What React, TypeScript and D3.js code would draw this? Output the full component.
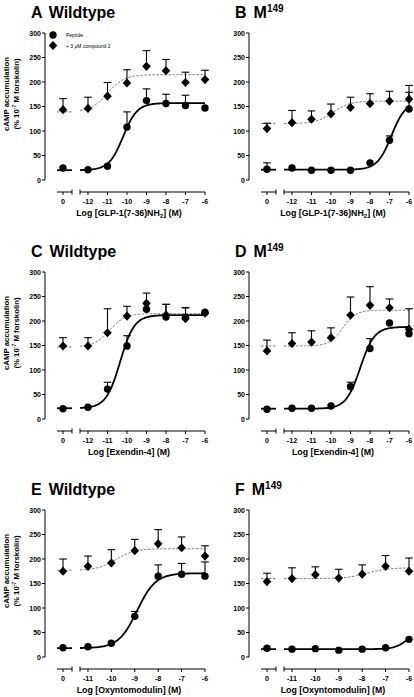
import React from 'react';
import * as d3 from 'd3';

// log concentrations (basal "0" handled separately)
const concGLP = [-12, -11, -10, -9, -8, -7, -6];
const concExe = [-12, -11, -10, -9, -8, -7, -6];
const concOxm = [-11, -10, -9, -8, -7, -6];
const yTicks = [0, 50, 100, 150, 200, 250, 300];

// values: index 0 = basal (0), then one per concentration
const pepA = [24.5, 21, 28, 108, 162, 156, 152, 147];
const pepErrA = [null, null, null, 139, 186, 175, 173, null];
const cmpA = [143.5, 146, 171, 198, 232, 223, 199, 205];
const cmpErrA = [166, 169, 199, 225, 264, 246, 220, 224];

const pepB = [22, 24.5, 20, 20, 20, 35, 81, 145];
const pepErrB = [35, null, null, null, null, null, 90, 179];
const cmpB = [105, 117, 124, 135, 148, 156, 161, 165];
const cmpErrB = [116, 142, 141, 155, 169, 176, 181, 193];

const pepC = [21, 24, 61, 149, 224, 208, 207, 218];
const pepErrC = [null, null, 75, 170, null, 234, 227, null];
const cmpC = [149, 149, 176, 210, 236, 212, 205, 216];
const cmpErrC = [166, 166, 225, 230, 257, 234, 227, null];

const pepD = [20, 22, 22, 26.5, 66, 144, 196, 174];
const pepErrD = [null, null, null, null, 75, 164, null, null];
const cmpD = [139, 154, 157, 166, 212, 232, 227, 183];
const cmpErrD = [161, 176, 180, 186, 249, 270, 245, 225];

const pepE = [19, 21, 28, 83, 165, 169, 165];
const pepErrE = [null, null, null, 93, 188, 191, 194];
const cmpE = [175, 185, 192, 217, 231, 223, 206];
const cmpErrE = [200, 206, 219, 240, 260, 245, 227];

const pepF = [18, 16, 17, 14, 16, 19, 36];
const pepErrF = [null, null, null, null, null, null, null];
const cmpF = [154, 160, 168, 161, 169, 185, 175];
const cmpErrF = [171, 182, 184, 179, 188, 207, 202];

// fitted curve parameters: [bottom, top, logEC50, hill]
const fitPepA = [20, 157, -10.2, 1.2];
const fitCmpA = [139, 215, -11.0, 1.0];
const fitPepB = [21, 160, -6.9, 1.2];
const fitCmpB = [115, 161, -9.9, 1.0];
const fitPepC = [22, 212, -10.35, 1.2];
const fitCmpC = [147, 215, -10.9, 1.1];
const fitPepD = [21, 188, -8.5, 1.2];
const fitCmpD = [149, 222, -9.4, 1.3];
const fitPepE = [18, 171, -8.9, 1.1];
const fitCmpE = [177, 221, -9.8, 1.1];
const fitPepF = [16, 60, -6.0, 1.5];
const fitCmpF = [160, 182, -7.8, 1.0];

const FONT = 'Liberation Sans, Arial, sans-serif';

type Panel = {
  letter: string; title: string; sup?: string; xTitle: string; xSub?: string; xTail?: string;
  conc: number[]; start: number; ox: number; oy: number;
  pep: number[]; pepErr: (number | null)[]; cmp: number[]; cmpErr: (number | null)[];
  fitPep: number[]; fitCmp: number[]; legend?: boolean;
};

const panels: Panel[] = [
  { letter: 'A', title: 'Wildtype', xTitle: 'Log [GLP-1(7-36)NH', xSub: '2', xTail: '] (M)', conc: concGLP, start: -12.41, ox: 0, oy: 0, pep: pepA, pepErr: pepErrA, cmp: cmpA, cmpErr: cmpErrA, fitPep: fitPepA, fitCmp: fitCmpA, legend: true },
  { letter: 'B', title: 'M', sup: '149', xTitle: 'Log [GLP-1(7-36)NH', xSub: '2', xTail: '] (M)', conc: concGLP, start: -12.41, ox: 204, oy: 0, pep: pepB, pepErr: pepErrB, cmp: cmpB, cmpErr: cmpErrB, fitPep: fitPepB, fitCmp: fitCmpB },
  { letter: 'C', title: 'Wildtype', xTitle: 'Log [Exendin-4] (M)', conc: concExe, start: -12.41, ox: 0, oy: 239, pep: pepC, pepErr: pepErrC, cmp: cmpC, cmpErr: cmpErrC, fitPep: fitPepC, fitCmp: fitCmpC },
  { letter: 'D', title: 'M', sup: '149', xTitle: 'Log [Exendin-4] (M)', conc: concExe, start: -12.41, ox: 204, oy: 239, pep: pepD, pepErr: pepErrD, cmp: cmpD, cmpErr: cmpErrD, fitPep: fitPepD, fitCmp: fitCmpD },
  { letter: 'E', title: 'Wildtype', xTitle: 'Log [Oxyntomodulin] (M)', conc: concOxm, start: -11.34, ox: 0, oy: 477, pep: pepE, pepErr: pepErrE, cmp: cmpE, cmpErr: cmpErrE, fitPep: fitPepE, fitCmp: fitCmpE },
  { letter: 'F', title: 'M', sup: '149', xTitle: 'Log [Oxyntomodulin] (M)', conc: concOxm, start: -11.34, ox: 204, oy: 477, pep: pepF, pepErr: pepErrF, cmp: cmpF, cmpErr: cmpErrF, fitPep: fitPepF, fitCmp: fitCmpF },
];

const logistic = (p: number[], x: number) => p[0] + (p[1] - p[0]) / (1 + Math.pow(10, p[3] * (p[2] - x)));

const diamond = 'M0,-4.6L4.3,0L0,4.6L-4.3,0Z';

function Markers({ xs, ys, kind }: { xs: number[]; ys: number[]; kind: 'c' | 'd' }) {
  return (
    <g>
      {xs.map((x, i) =>
        kind === 'c' ? (
          <circle key={i} cx={x} cy={ys[i]} r={3.7} fill="#000" />
        ) : (
          <path key={i} d={diamond} transform={`translate(${x},${ys[i]})`} fill="#000" />
        )
      )}
    </g>
  );
}

function PanelView({ p }: { p: Panel }) {
  const y = d3.scaleLinear().domain([0, 300]).range([180 + p.oy, 33 + p.oy]);
  const x = d3.scaleLinear().domain([p.start, -6]).range([80 + p.ox, 205 + p.ox]);
  const zeroX = 63 + p.ox;
  const zl = 57 + p.ox, zr = 72 + p.ox;
  const axY = 192 + p.oy;
  const axX = 45 + p.ox;
  const xsAll = [zeroX, ...p.conc.map((c) => x(c))];

  const curveXs = d3.range(p.start, -6.0001, 0.05).concat([-6]);
  const line = d3.line<number>().x((c) => x(c)).y((c) => y(logistic(p.fitPep, c)));
  const lineC = d3.line<number>().x((c) => x(c)).y((c) => y(logistic(p.fitCmp, c)));

  const errBars = (vals: number[], errs: (number | null)[]) =>
    errs.map((e, i) =>
      e == null ? null : (
        <g key={i} stroke="#000" strokeWidth={1.1}>
          <line x1={xsAll[i]} x2={xsAll[i]} y1={y(vals[i])} y2={y(e)} />
          <line x1={xsAll[i] - 3.8} x2={xsAll[i] + 3.8} y1={y(e)} y2={y(e)} />
        </g>
      )
    );

  return (
    <g fontFamily={FONT}>
      {/* title */}
      <text x={31 + p.ox} y={18 + p.oy} fontSize={16} fontWeight="bold">
        {p.letter}
        <tspan dx={7}>{p.title}</tspan>
        {p.sup && <tspan fontSize={10} dy={-6}>{p.sup}</tspan>}
      </text>

      {/* y axis */}
      <line x1={axX} x2={axX} y1={y(0)} y2={y(300)} stroke="#000" strokeWidth={1} />
      {yTicks.map((t) => (
        <g key={t}>
          <line x1={axX - 3} x2={axX} y1={y(t)} y2={y(t)} stroke="#000" />
          <text x={axX - 4} y={y(t) + 2.5} fontSize={7} fontWeight="bold" textAnchor="end">{t}</text>
        </g>
      ))}
      {p.ox === 0 && (
        <g transform={`translate(${9 + p.ox},${94 + p.oy}) rotate(-90)`} fontSize={7.8} fontWeight="bold" textAnchor="middle">
          <text x={0} y={0}>cAMP accumulation</text>
          <text x={0} y={10}>
            (% 10<tspan fontSize={5} dy={-3}>-7</tspan><tspan dy={3}> M forskolin)</tspan>
          </text>
        </g>
      )}

      {/* x axis (broken) */}
      <g stroke="#000" strokeWidth={1}>
        <line x1={zl} x2={zr} y1={axY} y2={axY} />
        <line x1={zr} x2={zr} y1={axY - 2.5} y2={axY + 2.5} />
        <line x1={zeroX} x2={zeroX} y1={axY} y2={axY + 3} />
        <line x1={80 + p.ox} x2={205 + p.ox} y1={axY} y2={axY} />
        <line x1={80 + p.ox} x2={80 + p.ox} y1={axY - 2.5} y2={axY + 2.5} />
        {p.conc.map((c) => (
          <line key={c} x1={x(c)} x2={x(c)} y1={axY} y2={axY + 3} />
        ))}
      </g>
      <g fontSize={7.2} fontWeight="bold" textAnchor="middle">
        <text x={zeroX} y={axY + 12}>0</text>
        {p.conc.map((c) => (
          <text key={c} x={x(c)} y={axY + 12}>{c}</text>
        ))}
      </g>
      <text x={129 + p.ox} y={axY + 24} fontSize={8.8} fontWeight="bold" textAnchor="middle">
        {p.xTitle}
        {p.xSub && <tspan fontSize={6} dy={2}>{p.xSub}</tspan>}
        {p.xTail && <tspan dy={p.xSub ? -2 : 0}>{p.xTail}</tspan>}
      </text>

      {/* fit lines */}
      <line x1={zl} x2={zr} y1={y(p.fitCmp[0])} y2={y(p.fitCmp[0])} stroke="#777" strokeWidth={1} strokeDasharray="2.5,1.5" />
      <path d={lineC(curveXs) as string} fill="none" stroke="#777" strokeWidth={1} strokeDasharray="2.5,1.5" />
      <line x1={zl} x2={zr} y1={y(p.fitPep[0])} y2={y(p.fitPep[0])} stroke="#000" strokeWidth={1.8} />
      <path d={line(curveXs) as string} fill="none" stroke="#000" strokeWidth={1.8} />

      {errBars(p.cmp, p.cmpErr)}
      {errBars(p.pep, p.pepErr)}
      <Markers xs={xsAll} ys={p.cmp.map((v) => y(v))} kind="d" />
      <Markers xs={xsAll} ys={p.pep.map((v) => y(v))} kind="c" />

      {p.legend && (
        <g>
          <circle cx={53 + p.ox} cy={35 + p.oy} r={3.7} fill="#000" />
          <path d={diamond} transform={`translate(${53 + p.ox},${45.5 + p.oy})`} fill="#000" />
          <text x={66 + p.ox} y={37 + p.oy} fontSize={5}>Peptide</text>
          <text x={66 + p.ox} y={47.5 + p.oy} fontSize={5}>+ 3 μM compound 2</text>
        </g>
      )}
    </g>
  );
}

export default function App() {
  return (
    <svg width={414} height={697} style={{ position: 'absolute', left: 0, top: 0, background: '#fff' }}>
      <rect width={414} height={697} fill="#fff" />
      {panels.map((p) => (
        <PanelView key={p.letter} p={p} />
      ))}
    </svg>
  );
}
